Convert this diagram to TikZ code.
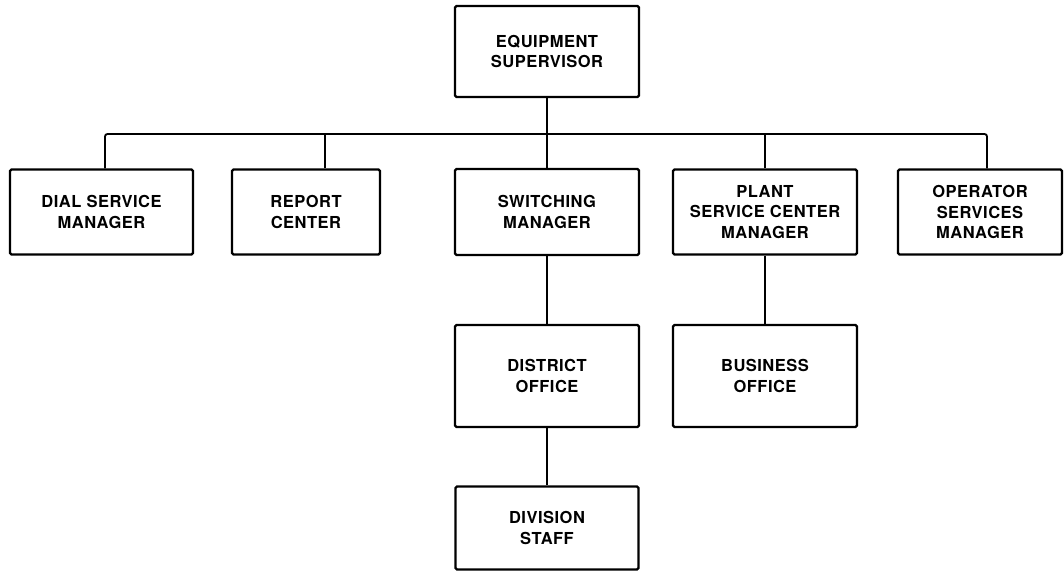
\documentclass[tikz,border=0pt]{standalone}
\usepackage{fontspec}
\setmainfont{TeX Gyre Heros}[LetterSpace=3]
\usetikzlibrary{shapes}
\tikzstyle{unit} = [rectangle,draw,line width=2.2pt,rounded corners=1.5pt,text centered,align=center,inner sep=0pt,font=\bfseries\fontsize{16.5}{20.5}\selectfont]
\tikzstyle{link} = [line width=1.8pt]

\begin{document}
\begin{tikzpicture}[node distance=164pt]
	\useasboundingbox (-547pt,51.5pt) rectangle (517pt,-523.5pt);

	\node[unit,minimum width=184pt,minimum height=91pt](supervisor) {EQUIPMENT\\SUPERVISOR};
	\node[unit,yshift=3.5pt,minimum width=184pt,minimum height=86pt,below of=supervisor](switching) {SWITCHING\\MANAGER};
	\node[unit,minimum width=184pt,minimum height=102pt,below of=switching](district) {DISTRICT\\OFFICE};
	\node[unit,yshift=12pt,minimum width=183pt,minimum height=83pt,below of=district](division) {DIVISION\\STAFF};
	\node[unit,xshift=54pt,minimum width=184pt,minimum height=85pt,right of=switching](plant) {PLANT\\SERVICE CENTER\\MANAGER};
	\node[unit,xshift=51pt,minimum width=164pt,minimum height=85pt,right of=plant](operator) {OPERATOR\\SERVICES\\MANAGER};
	\node[unit,minimum width=184pt,minimum height=102pt,below of=plant](business) {BUSINESS\\OFFICE};
	\node[unit,xshift=-77pt,minimum width=148pt,minimum height=85pt,left of=switching](report) {REPORT\\CENTER};
	\node[unit,xshift=-40.5pt,minimum width=183pt,minimum height=85pt,left of=report](dial) {DIAL SERVICE\\MANAGER};

	\coordinate (bus) at (0,-82.5pt);
	\coordinate (dialtap) at ([xshift=3.5pt]dial.north);
	\coordinate (reporttap) at ([xshift=19pt]report.north);
	\coordinate (operatortap) at ([xshift=7pt]operator.north);

	\draw[link,rounded corners=2.5pt] (dialtap) |- (bus) -| (operatortap);
	\draw[link] (reporttap) -- (reporttap |- bus);
	\draw[link] (plant) -- (plant |- bus);
	\draw[link] (supervisor) -- (switching);
	\draw[link] (switching) -- (district);
	\draw[link] (district) -- (division);
	\draw[link] (plant) -- (business);

\end{tikzpicture}
\end{document}
